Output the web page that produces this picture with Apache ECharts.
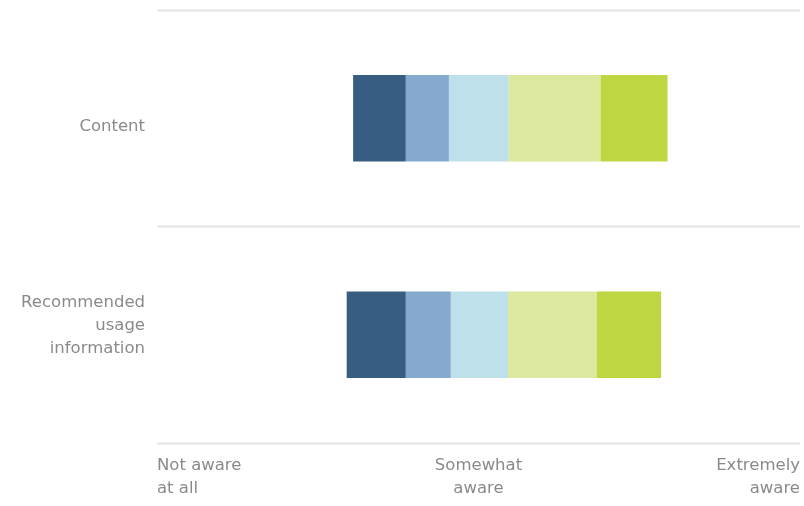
<!DOCTYPE html>
<html>
<head>
<meta charset="utf-8">
<script src="https://cdn.jsdelivr.net/npm/echarts@6/dist/echarts.min.js"></script>
<style>
  html, body { margin: 0; padding: 0; background: #ffffff; }
  #chart { width: 804px; height: 506px; }
</style>
</head>
<body>
<div id="chart"></div>
<script>
// Awareness scale: 0 = not aware at all, 100 = extremely aware
const categories = ['Content', 'Recommended\nusage\ninformation'];
const scaleTicks = [0, 50, 100];
const scaleLabels = ['Not aware\nat all', 'Somewhat\naware', 'Extremely\naware'];

// Start of each bar along the scale, then the width of each band
const barStart = [30.5, 29.5];
const band1 = [8.2, 9.2];
const band2 = [6.7, 7.0];
const band3 = [9.3, 8.9];
const band4 = [14.3, 13.8];
const band5 = [10.4, 10.0];

const bandColors = ['#375d82', '#85a9cf', '#bde0ea', '#dbe89d', '#bdd641'];
const bands = [band1, band2, band3, band4, band5];

const FONT = "'DejaVu Sans', 'Open Sans', sans-serif";
const TEXT_COLOR = '#8a8a8a';

const chart = echarts.init(document.getElementById('chart'), null, { renderer: 'canvas' });

const series = [{
  type: 'bar',
  stack: 'total',
  data: barStart,
  barWidth: '40%',
  itemStyle: { color: 'transparent' },
  silent: true
}].concat(bands.map((vals, i) => ({
  type: 'bar',
  stack: 'total',
  data: vals,
  barWidth: '40%',
  itemStyle: { color: bandColors[i] }
})));

// Category labels: the first sits a little below its bar centre, the second a little above
function categoryLabel(value, index) {
  const lines = value.split('\n');
  if (index === 0) {
    return lines.map(l => '{low|' + l + '}').join('\n');
  }
  return lines.map(l => '{n|' + l + '}').join('\n') + '\n{sp| }';
}

const labelFont = { fontSize: 16.5, fontFamily: FONT, lineHeight: 23, color: TEXT_COLOR, align: 'right' };

chart.setOption({
  animation: false,
  textStyle: { fontFamily: FONT, color: TEXT_COLOR },
  graphic: [{
    type: 'text',
    left: 4,
    top: -15,
    style: { text: 'used)', fontSize: 17, fill: TEXT_COLOR, fontFamily: FONT }
  }],
  grid: { left: 157, right: 4, top: 10, bottom: 63, containLabel: false },
  xAxis: {
    type: 'value',
    min: 0,
    max: 100,
    interval: 50,
    axisLine: { show: false },
    axisTick: { show: false },
    splitLine: { show: false },
    axisLabel: {
      margin: 11,
      fontSize: 16.5,
      fontFamily: FONT,
      lineHeight: 23,
      color: TEXT_COLOR,
      alignMinLabel: 'left',
      alignMaxLabel: 'right',
      formatter: v => scaleLabels[scaleTicks.indexOf(v)] || ''
    }
  },
  yAxis: {
    type: 'category',
    inverse: true,
    data: categories,
    axisLine: { show: false },
    axisTick: { show: false },
    splitLine: { show: true, lineStyle: { color: '#e8e8e8', width: 2.5 } },
    axisLabel: Object.assign({
      margin: 12,
      formatter: categoryLabel,
      rich: {
        low: Object.assign({ padding: [16, 0, 0, 0] }, labelFont),
        n: Object.assign({}, labelFont),
        sp: { fontSize: 4, lineHeight: 18 }
      }
    }, labelFont)
  },
  series: series
});
</script>
</body>
</html>
